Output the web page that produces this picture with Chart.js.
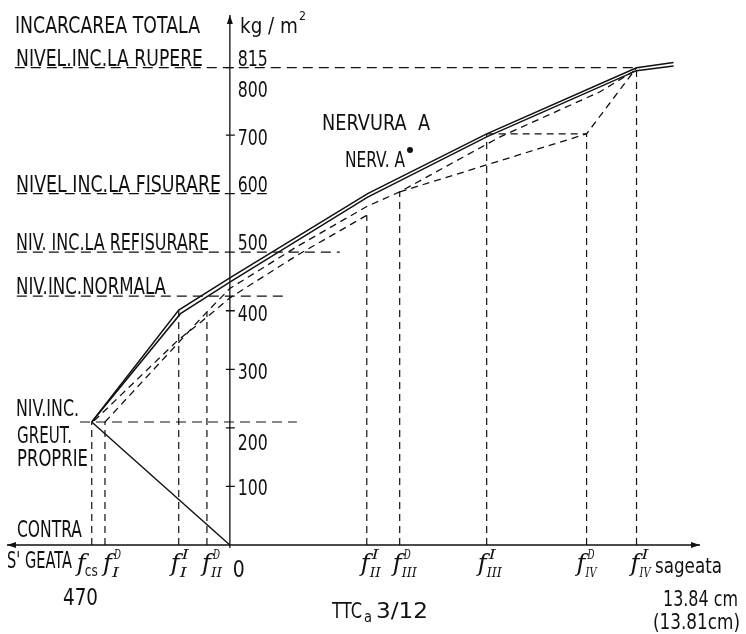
<!DOCTYPE html>
<html>
<head>
<meta charset="utf-8">
<script src="https://cdn.jsdelivr.net/npm/chart.js@4.4.0/dist/chart.umd.min.js"></script>
<style>
  html, body { margin: 0; padding: 0; background: #fff; }
  #wrap { width: 746px; height: 634px; }
</style>
</head>
<body>
<div id="wrap"><canvas id="chart"></canvas></div>
<script>
// x = sageata (cm, negative = contrasageata), y = incarcarea totala (kg/m2)
const envelopeA = [[-4.70, 210], [-1.74, 401], [0, 456], [4.69, 600], [8.74, 702], [13.84, 815], [15.1, 824]];
const envelopeB = [[-4.70, 210], [-1.68, 395], [0, 449], [4.69, 594], [8.74, 697], [13.84, 810], [15.1, 818]];
const selfWeight = [[-4.70, 210], [0, 0]];
const reloadUpper = [[-4.25, 210], [-0.78, 398], [0, 438], [2.3, 510], [4.66, 578], [5.78, 603], [9.2, 697], [12.6, 774], [13.84, 812]];
const reloadLower = [[-4.62, 212], [-1.76, 350], [-1.0, 380], [0, 422], [2.3, 495], [4.66, 563]];
const unloadIV = [[5.78, 603], [12.14, 702], [13.84, 815]];
const holdIII = [[8.74, 702], [12.14, 702]];

// vertical drop lines f
const fSub = ["cs", "I", "I", "II", "II", "III", "III", "IV", "IV"];
const fSup = ["", "D", "I", "D", "I", "D", "I", "D", "I"];
const fValues = [-4.70, -4.25, -1.74, -0.78, 4.66, 5.78, 8.74, 12.14, 13.84];
const fTops = [210, 210, 401, 398, 563, 603, 702, 702, 815];

// load levels
const levelNames = ["NIVEL.INC.LA RUPERE", "NIVEL INC.LA FISURARE", "NIV. INC.LA REFISURARE", "NIV.INC.NORMALA", "NIV.INC."];
const levelValues = [815, 600, 500, 425, 210];
const levelStarts = [-7.32, -7.25, -7.25, -7.25, -5.1];
const levelEnds = [13.96, 1.36, 3.74, 1.94, 2.28];

const yTicks = [100, 200, 300, 400, 700];
const yLabels = ["100", "200", "300", "400", "500", "600", "700", "800", "815"];
const yLabelValues = [100, 200, 300, 400, 500, 600, 700, 800, 815];

const INK = "#111";
const SANS = '"DejaVu Sans"';
const SERIF = '"DejaVu Serif"';

function pts(arr) {
  return arr.map(p => ({ x: p[0], y: p[1] }));
}

function line(data, dashed, width) {
  return {
    data: pts(data),
    showLine: true,
    borderColor: INK,
    borderWidth: width || 1.5,
    borderDash: dashed ? [7, 5] : [],
    pointRadius: 0,
    tension: 0,
  };
}

const datasets = [
  line(envelopeA, false, 1.5),
  line(envelopeB, false, 1.5),
  line(selfWeight, false, 1.4),
  line(reloadUpper, true, 1.3),
  line(reloadLower, true, 1.3),
  line(unloadIV, true, 1.3),
  line(holdIII, true, 1.3),
];
fValues.forEach((f, i) => {
  datasets.push(line([[f, 0], [f, fTops[i]]], true, 1.2));
});
levelValues.forEach((v, i) => {
  const ds = line([[levelStarts[i], v], [levelEnds[i], v]], true, 1.2);
  ds.borderDash = [10, 6];
  datasets.push(ds);
});

// text squeezed horizontally to a target width (condensed drafting lettering)
function txt(ctx, s, x, y, size, w, font, style) {
  ctx.save();
  ctx.font = `${style || ""} ${size}px ${font || SANS}`;
  const m = ctx.measureText(s).width;
  ctx.translate(x, y);
  if (w) ctx.scale(w / m, 1);
  ctx.fillText(s, 0, 0);
  ctx.restore();
}

function arrow(ctx, x, y, dir) {
  ctx.save();
  ctx.translate(x, y);
  ctx.rotate(dir);
  ctx.beginPath();
  ctx.moveTo(0, 0);
  ctx.lineTo(-9, -3);
  ctx.lineTo(-9, 3);
  ctx.closePath();
  ctx.fill();
  ctx.restore();
}

function fLabel(ctx, x, sub, sup) {
  txt(ctx, "f", x, 571, 24, 0, SERIF, "italic");
  if (sub === "cs") {
    txt(ctx, "cs", x + 8, 576, 16, 13, SANS);
  } else {
    txt(ctx, sub, x + 9, 577, 12, sub.length * 4 + 3, SERIF, "italic");
  }
  if (sup) txt(ctx, sup, x + 11, 559, 12, 7, SERIF, "italic");
}

const fLabelShift = [-15, -2, -8, -5, -6, -7, -9, -10, -6];
const yLabelShift = [9, 22, 10, 10, -2, -2, 10, 21, -2];

const decor = {
  id: "decor",
  afterDraw(chart) {
    const { ctx, scales } = chart;
    const X = v => scales.x.getPixelForValue(v);
    const Y = v => scales.y.getPixelForValue(v);
    const x0 = X(0), y0 = Y(0);

    ctx.save();
    ctx.strokeStyle = INK;
    ctx.fillStyle = INK;
    ctx.lineWidth = 1.3;
    ctx.setLineDash([]);

    // axes
    ctx.beginPath();
    ctx.moveTo(7, y0); ctx.lineTo(chart.chartArea.right, y0);
    ctx.moveTo(x0, y0 + 3); ctx.lineTo(x0, chart.chartArea.top);
    ctx.stroke();
    arrow(ctx, chart.chartArea.right, y0, 0);
    arrow(ctx, 7, y0, Math.PI);
    arrow(ctx, x0, chart.chartArea.top, -Math.PI / 2);

    // y ticks
    ctx.beginPath();
    yTicks.forEach(v => { ctx.moveTo(x0 - 4, Y(v)); ctx.lineTo(x0 + 5, Y(v)); });
    ctx.moveTo(x0 - 4, Y(815)); ctx.lineTo(x0 + 4, Y(815));
    ctx.stroke();

    yLabels.forEach((s, i) => {
      txt(ctx, s, x0 + 8, Y(yLabelValues[i]) + yLabelShift[i], 22, 30);
    });

    // axis titles
    txt(ctx, "INCARCAREA TOTALA", 15, 33, 23, 185);
    txt(ctx, "kg / m", 240, 33, 22, 58);
    txt(ctx, "2", 299, 20, 13, 7);

    // level names sitting on their lines
    levelNames.forEach((s, i) => {
      const w = [187, 205, 193, 150, 63][i];
      const yy = i === 4 ? Y(levelValues[i]) - 6 : Y(levelValues[i]) - 2;
      txt(ctx, s, 16, yy, 23, w);
    });
    txt(ctx, "GREUT.", 17, 443, 23, 55);
    txt(ctx, "PROPRIE", 17, 466, 23, 71);
    txt(ctx, "CONTRA", 17, 537, 23, 65);
    txt(ctx, "S' GEATA", 7, 568, 23, 65);
    txt(ctx, "470", 63, 605, 23, 35);
    txt(ctx, "0", x0 + 3, 577, 23, 12);

    fValues.forEach((f, i) => fLabel(ctx, X(f) + fLabelShift[i], fSub[i], fSup[i]));

    txt(ctx, "sageata", 655, 573, 22, 67);
    txt(ctx, "13.84 cm", 663, 606, 22, 75);
    txt(ctx, "(13.81cm)", 653, 629, 22, 87);
    txt(ctx, "TTC", 332, 618, 22, 30);
    txt(ctx, "a", 364, 622, 15, 8);
    txt(ctx, "3/12", 376, 618, 22, 52);

    txt(ctx, "NERVURA  A", 322, 130, 22, 108);
    txt(ctx, "NERV. A", 345, 167, 22, 60);
    ctx.beginPath();
    ctx.arc(410, 150, 3, 0, Math.PI * 2);
    ctx.fill();

    ctx.restore();
  }
};

new Chart(document.getElementById("chart"), {
  type: "scatter",
  data: { datasets },
  options: {
    responsive: true,
    maintainAspectRatio: false,
    animation: false,
    layout: { padding: { left: 8, right: 46, top: 15, bottom: 89 } },
    scales: {
      x: { type: "linear", min: -7.55, max: 16.0, display: false },
      y: { type: "linear", min: 0, max: 905, display: false },
    },
    plugins: { legend: { display: false }, tooltip: { enabled: false } },
  },
  plugins: [decor],
});
</script>
</body>
</html>
